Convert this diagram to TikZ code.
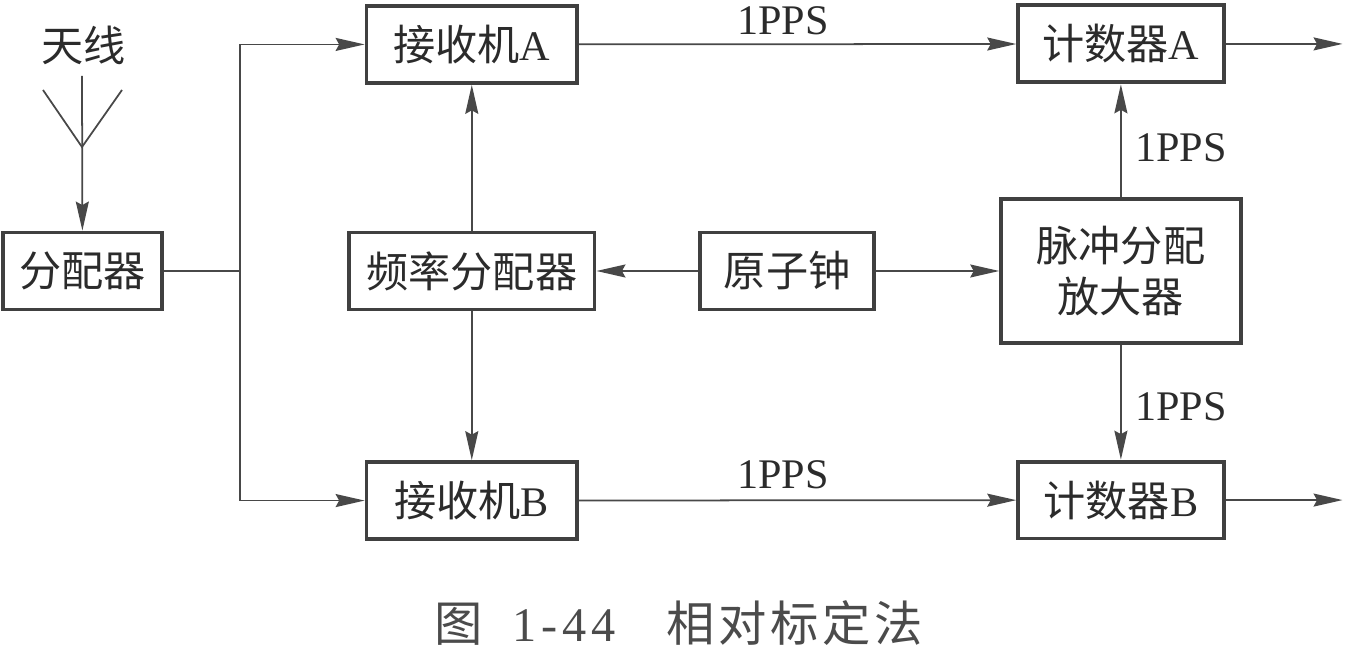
\documentclass[tikz,border=0pt]{standalone}
\usepackage{fontspec}
\setmainfont{Liberation Serif}
\newfontfamily\cjkfont{Noto Sans CJK SC}
\newfontfamily\capfont[LetterSpace=8]{Noto Sans CJK SC}
\newfontfamily\capnum[LetterSpace=10]{Liberation Serif}
\usetikzlibrary{arrows.meta,positioning,calc}
\definecolor{inkDark}{HTML}{2B2B2B}
\definecolor{inkLine}{HTML}{484848}
\begin{document}
\begin{tikzpicture}[x=0.02cm,y=-0.02cm,font=\fontsize{24}{29}\selectfont\cjkfont,text=inkDark,
      block/.style={draw=inkDark!90,line width=2.2pt,minimum height=1.54cm,inner sep=0pt,align=center},
      lbl/.style={font=\fontsize{24}{29}\selectfont\rmfamily,inner sep=0pt},
      wire/.style={inkLine,line width=1pt},
      sig/.style={wire,-{Stealth[length=0.58cm,width=0.26cm,inset=0.07cm]}}]
    \useasboundingbox (0,0) rectangle (1359,651);
    \node[block,minimum width=3.19cm] (split) at (82.5,271) {分配器};
    \node[block,minimum width=4.91cm,right=3.66cm of split] (freq) {频率分配器};
    \node[block,minimum width=3.47cm,right=2.04cm of freq] (clock) {原子钟};
    \node[block,minimum width=4.79cm,minimum height=2.89cm,right=2.47cm of clock] (pulse) {脉冲分配\\放大器};
    \node[block,minimum width=4.21cm,above=2.915cm of freq] (rxa) {接收机{\rmfamily A}};
    \node[block,minimum width=4.21cm,below=2.975cm of freq] (rxb) {接收机{\rmfamily B}};
    \node[block,minimum width=4.11cm,above=2.25cm of pulse] (cnta) {计数器{\rmfamily A}};
    \node[block,minimum width=4.11cm,below=2.29cm of pulse] (cntb) {计数器{\rmfamily B}};
    \node[inner sep=0pt] (ant) at (84,45) {天线};
    \node[inner sep=0pt,font=\fontsize{27.5}{32}\selectfont\capfont,text=inkDark!85] (cap) at (679,623) {图\hspace{0.6em}{\capnum 1-44}\hspace{1.05em}相对标定法};
    % antenna and feed
    \coordinate (mast) at (82,76);
    \coordinate (fork) at (82,147);
    \coordinate (armL) at (43,90);
    \coordinate (armR) at (122,90);
    \draw[wire] (armL) -- (fork) -- (armR);
    \draw[sig] (mast) -- (split);
    \coordinate (tee) at (240,271);
    \draw[wire] (split) -- (tee);
    \draw[sig] (tee) |- (rxa);
    \draw[sig] (tee) |- (rxb);
    \foreach \a/\b in {rxa/cnta,rxb/cntb,clock/freq,clock/pulse,freq/rxa,freq/rxb,pulse/cnta,pulse/cntb}
      \draw[sig] (\a) -- (\b);
    \coordinate[right=2.34cm of cnta] (outa);
    \coordinate[right=2.34cm of cntb] (outb);
    \draw[sig] (cnta) -- (outa);
    \draw[sig] (cntb) -- (outb);
    \node[lbl] (ppsa) at (783,21) {1PPS};
    \node[lbl] (ppsb) at (783,475) {1PPS};
    \node[lbl] (ppsc) at (1181,148) {1PPS};
    \node[lbl] (ppsd) at (1181,407) {1PPS};
  \end{tikzpicture}
\end{document}
